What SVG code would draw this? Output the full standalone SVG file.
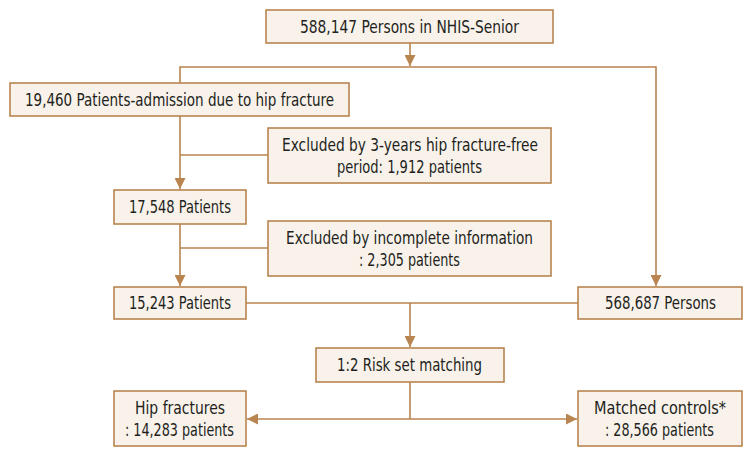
<svg xmlns="http://www.w3.org/2000/svg" width="753" height="457" viewBox="0 0 753 457">
<style>
.box{fill:#f8f2eb;stroke:#b8844f;stroke-width:1.6}
.ln{fill:none;stroke:#b8844f;stroke-width:1.6}
text{font-family:"DejaVu Sans Condensed","Liberation Sans Narrow","Liberation Sans",sans-serif;font-size:17.2px;fill:#231f20;text-anchor:middle}
</style>
<defs>
<marker id="ah" viewBox="0 0 10 10" refX="10" refY="5" markerWidth="11" markerHeight="11" markerUnits="userSpaceOnUse" orient="auto">
<path d="M0,0 L10,5 L0,10 Z" fill="#b8844f"/>
</marker>
</defs>
<rect width="753" height="457" fill="#ffffff"/>
<g id="connectors">
<path class="ln" d="M410,43 V66" marker-end="url(#ah)"/>
<path class="ln" d="M180,83 V67 H656 V286" marker-end="url(#ah)"/>
<path class="ln" d="M180,116 V189" marker-end="url(#ah)"/>
<path class="ln" d="M180,155 H268"/>
<path class="ln" d="M180,224 V286" marker-end="url(#ah)"/>
<path class="ln" d="M180,248 H268"/>
<path class="ln" d="M246,303 H578"/>
<path class="ln" d="M410,303 V347" marker-end="url(#ah)"/>
<path class="ln" d="M410,382 V419"/>
<path class="ln" d="M410,419 H247" marker-end="url(#ah)"/>
<path class="ln" d="M410,419 H577" marker-end="url(#ah)"/>
</g>
<g id="n1"><rect class="box" x="266" y="10" width="287" height="33"/><text x="409.5" y="32.5" textLength="219" lengthAdjust="spacingAndGlyphs">588,147 Persons in NHIS-Senior</text></g>
<g id="n2"><rect class="box" x="10" y="83" width="339" height="33"/><text x="179.5" y="105.5" textLength="309" lengthAdjust="spacingAndGlyphs">19,460 Patients-admission due to hip fracture</text></g>
<g id="n3"><rect class="box" x="268" y="128" width="283" height="55"/><text x="410" y="150.5" textLength="256" lengthAdjust="spacingAndGlyphs">Excluded by 3-years hip fracture-free</text><text x="409.5" y="172.5" textLength="145" lengthAdjust="spacingAndGlyphs">period: 1,912 patients</text></g>
<g id="n4"><rect class="box" x="114" y="190" width="132" height="34"/><text x="180" y="213" textLength="102" lengthAdjust="spacingAndGlyphs">17,548 Patients</text></g>
<g id="n5"><rect class="box" x="268" y="221" width="283" height="55"/><text x="409.5" y="243.5" textLength="247" lengthAdjust="spacingAndGlyphs">Excluded by incomplete information</text><text x="409.5" y="265.5" textLength="101" lengthAdjust="spacingAndGlyphs">: 2,305 patients</text></g>
<g id="n6"><rect class="box" x="114" y="287" width="132" height="32"/><text x="180" y="309" textLength="102" lengthAdjust="spacingAndGlyphs">15,243 Patients</text></g>
<g id="n7"><rect class="box" x="578" y="287" width="164" height="32"/><text x="660.5" y="309" textLength="111" lengthAdjust="spacingAndGlyphs">568,687 Persons</text></g>
<g id="n8"><rect class="box" x="316" y="348" width="188" height="34"/><text x="409.5" y="371" textLength="145" lengthAdjust="spacingAndGlyphs">1:2 Risk set matching</text></g>
<g id="n9"><rect class="box" x="114" y="391" width="132" height="55"/><text x="180" y="413.5" textLength="90" lengthAdjust="spacingAndGlyphs">Hip fractures</text><text x="179.5" y="435.5" textLength="109" lengthAdjust="spacingAndGlyphs">: 14,283 patients</text></g>
<g id="n10"><rect class="box" x="578" y="391" width="164" height="55"/><text x="660" y="413.5" textLength="132" lengthAdjust="spacingAndGlyphs">Matched controls*</text><text x="659.5" y="435.5" textLength="109" lengthAdjust="spacingAndGlyphs">: 28,566 patients</text></g>
</svg>
